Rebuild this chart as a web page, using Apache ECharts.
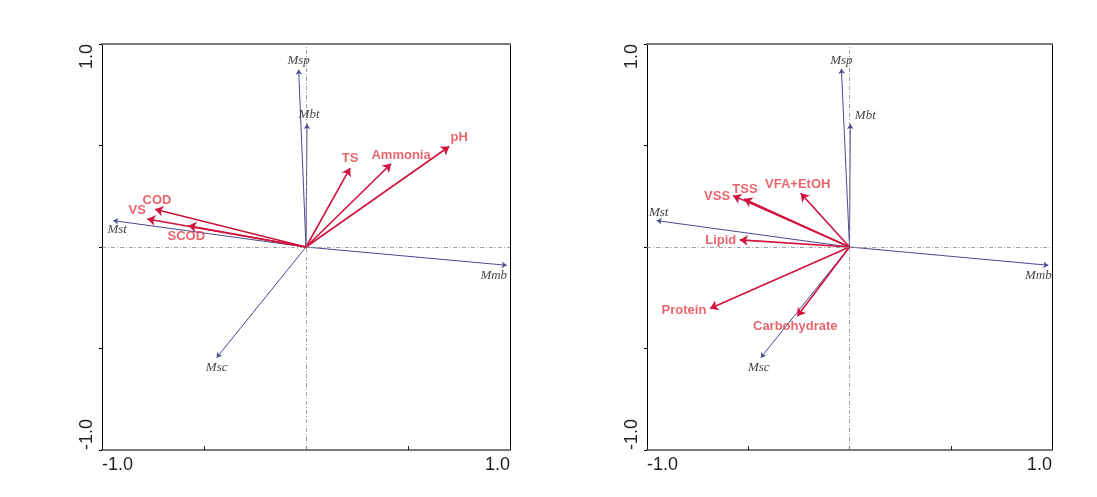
<!DOCTYPE html>
<html><head><meta charset="utf-8">
<script src="https://cdn.jsdelivr.net/npm/echarts@6/dist/echarts.min.js"></script>
<style>html,body{margin:0;padding:0;background:#fff}#c{width:1097px;height:497px}</style>
</head><body><div id="c"></div>
<script>
// ---- data ----
const tickValues = [-1, -0.5, 0, 0.5, 1];
const tickLabels = ['-1.0', '', '', '', '1.0'];

const leftSpeciesNames = ['Msp', 'Mbt', 'Mst', 'Mmb', 'Msc'];
const leftSpeciesX = [-0.036, 0.005, -0.945, 0.984, -0.438];
const leftSpeciesY = [0.874, 0.606, 0.130, -0.090, -0.545];

const leftEnvNames = ['COD', 'VS', 'SCOD', 'TS', 'Ammonia', 'pH'];
const leftEnvX = [-0.740, -0.778, -0.577, 0.216, 0.417, 0.702];
const leftEnvY = [0.186, 0.138, 0.105, 0.389, 0.410, 0.495];

const rightSpeciesNames = ['Msp', 'Mbt', 'Mst', 'Mmb', 'Msc'];
const rightSpeciesX = [-0.040, 0.004, -0.952, 0.982, -0.438];
const rightSpeciesY = [0.878, 0.606, 0.130, -0.090, -0.545];

const rightEnvNames = ['VSS', 'TSS', 'VFA+EtOH', 'Lipid', 'Protein', 'Carbohydrate'];
const rightEnvX = [-0.575, -0.521, -0.241, -0.542, -0.689, -0.258];
const rightEnvY = [0.253, 0.236, 0.265, 0.035, -0.303, -0.341];

// ---- label placement (style, px offsets from arrow tips) ----
const leftLabelOffset = {
  Msp: [0, -9], Mbt: [2, -9], Mst: [4, 9], Mmb: [-13, 10], Msc: [0, 10],
  COD: [2, -9], VS: [-10, -9], SCOD: [-2, 11], TS: [0, -10], Ammonia: [10, -8], pH: [10, -9]
};
const rightLabelOffset = {
  Msp: [0, -8], Mbt: [15, -8], Mst: [2, -8], Mmb: [-10, 10], Msc: [-2, 10],
  VSS: [-16, 1], TSS: [1, -10], 'VFA+EtOH': [-3, -9], Lipid: [-19, 1], Protein: [-26, 2], Carbohydrate: [-2, 10]
};

// ---- styles ----
const BLUE = '#4a4a8e';
const RED = '#d0123c';
const RED_TEXT = '#e23e48';
const GRAY = '#7a7a7a';

function fmt(v) {
  const i = tickValues.findIndex(t => Math.abs(t - v) < 1e-9);
  return i >= 0 ? tickLabels[i] : '';
}

function axesFor(gi) {
  const xs = [
    { gridIndex: gi, type: 'value', min: -1, max: 1, interval: 0.5, position: 'bottom',
      axisLine: { show: true, onZero: false, lineStyle: { color: GRAY, width: 2 } },
      axisTick: { show: true, inside: true, length: 4, lineStyle: { color: '#222' } },
      axisLabel: { show: true, formatter: fmt, fontFamily: 'Liberation Sans, Arial', fontSize: 18, color: '#222', margin: 6,
                   showMinLabel: true, showMaxLabel: true, alignMinLabel: 'left', alignMaxLabel: 'right' },
      splitLine: { show: false } },
    { gridIndex: gi, type: 'value', min: -1, max: 1, position: 'top',
      axisLine: { show: true, onZero: false, lineStyle: { color: GRAY, width: 2 } },
      axisTick: { show: false }, axisLabel: { show: false }, splitLine: { show: false } }
  ];
  const ys = [
    { gridIndex: gi, type: 'value', min: -1, max: 1, interval: 0.5, position: 'left',
      axisLine: { show: true, onZero: false, lineStyle: { color: '#000', width: 1 } },
      axisTick: { show: true, inside: false, length: 3, lineStyle: { color: '#000' } },
      axisLabel: { show: true, formatter: fmt, rotate: 90, fontFamily: 'Liberation Sans, Arial', fontSize: 18, color: '#222', margin: 6,
                   showMinLabel: true, showMaxLabel: true, alignMinLabel: 'left', alignMaxLabel: 'right' },
      splitLine: { show: false } },
    { gridIndex: gi, type: 'value', min: -1, max: 1, position: 'right',
      axisLine: { show: true, onZero: false, lineStyle: { color: '#000', width: 1 } },
      axisTick: { show: false }, axisLabel: { show: false }, splitLine: { show: false } }
  ];
  return { xs, ys };
}

const la = axesFor(0), ra = axesFor(1);
const xAxis = [...la.xs, ...ra.xs];
const yAxis = [...la.ys, ...ra.ys];

function arrows(names, xs, ys, xi, yi, color, width, headSize, z) {
  return {
    type: 'lines', coordinateSystem: 'cartesian2d', xAxisIndex: xi, yAxisIndex: yi, z: z, silent: true,
    symbol: ['none', 'arrow'], symbolSize: headSize,
    lineStyle: { color: color, width: width, opacity: 1 },
    data: names.map((n, i) => ({ name: n, coords: [[0, 0], [xs[i], ys[i]]] }))
  };
}

function labels(names, xs, ys, xi, yi, offsets, textStyle, z) {
  return {
    type: 'scatter', xAxisIndex: xi, yAxisIndex: yi, symbolSize: 0, z: z, silent: true,
    data: names.map((n, i) => ({
      name: n, value: [xs[i], ys[i]],
      label: { show: true, position: 'inside', offset: offsets[n], formatter: n,
               align: 'center', verticalAlign: 'middle', ...textStyle }
    }))
  };
}

const speciesText = { fontFamily: 'Liberation Serif, Times New Roman', fontStyle: 'italic', fontSize: 13, color: '#111' };
const envText = { fontFamily: 'Liberation Sans, Arial', fontWeight: 'bold', fontSize: 13, color: RED_TEXT };

function zeroLines(xi, yi) {
  return {
    type: 'scatter', xAxisIndex: xi, yAxisIndex: yi, data: [], silent: true, z: 1,
    markLine: {
      silent: true, symbol: 'none', animation: false, label: { show: false },
      lineStyle: { color: '#8a8a8a', width: 0.8, type: [4, 2, 1, 2] },
      data: [{ xAxis: 0 }, { yAxis: 0 }]
    }
  };
}

const option = {
  animation: false,
  backgroundColor: '#fff',
  grid: [
    { left: 102, top: 44, width: 408, height: 406 },
    { left: 647, top: 44, width: 405, height: 406 }
  ],
  xAxis: xAxis,
  yAxis: yAxis,
  series: [
    zeroLines(0, 0),
    zeroLines(2, 2),
    arrows(leftSpeciesNames, leftSpeciesX, leftSpeciesY, 0, 0, BLUE, 1, [0, 5], 2),
    arrows(rightSpeciesNames, rightSpeciesX, rightSpeciesY, 2, 2, BLUE, 1, [0, 5], 2),
    arrows(leftEnvNames, leftEnvX, leftEnvY, 0, 0, RED, 1.6, [0, 8], 3),
    arrows(rightEnvNames, rightEnvX, rightEnvY, 2, 2, RED, 1.6, [0, 8], 3),
    labels(leftSpeciesNames, leftSpeciesX, leftSpeciesY, 0, 0, leftLabelOffset, speciesText, 4),
    labels(rightSpeciesNames, rightSpeciesX, rightSpeciesY, 2, 2, rightLabelOffset, speciesText, 4),
    labels(leftEnvNames, leftEnvX, leftEnvY, 0, 0, leftLabelOffset, envText, 4),
    labels(rightEnvNames, rightEnvX, rightEnvY, 2, 2, rightLabelOffset, envText, 4)
  ]
};

const chart = echarts.init(document.getElementById('c'), null, { renderer: 'canvas' });
chart.setOption(option);
</script>
</body></html>
